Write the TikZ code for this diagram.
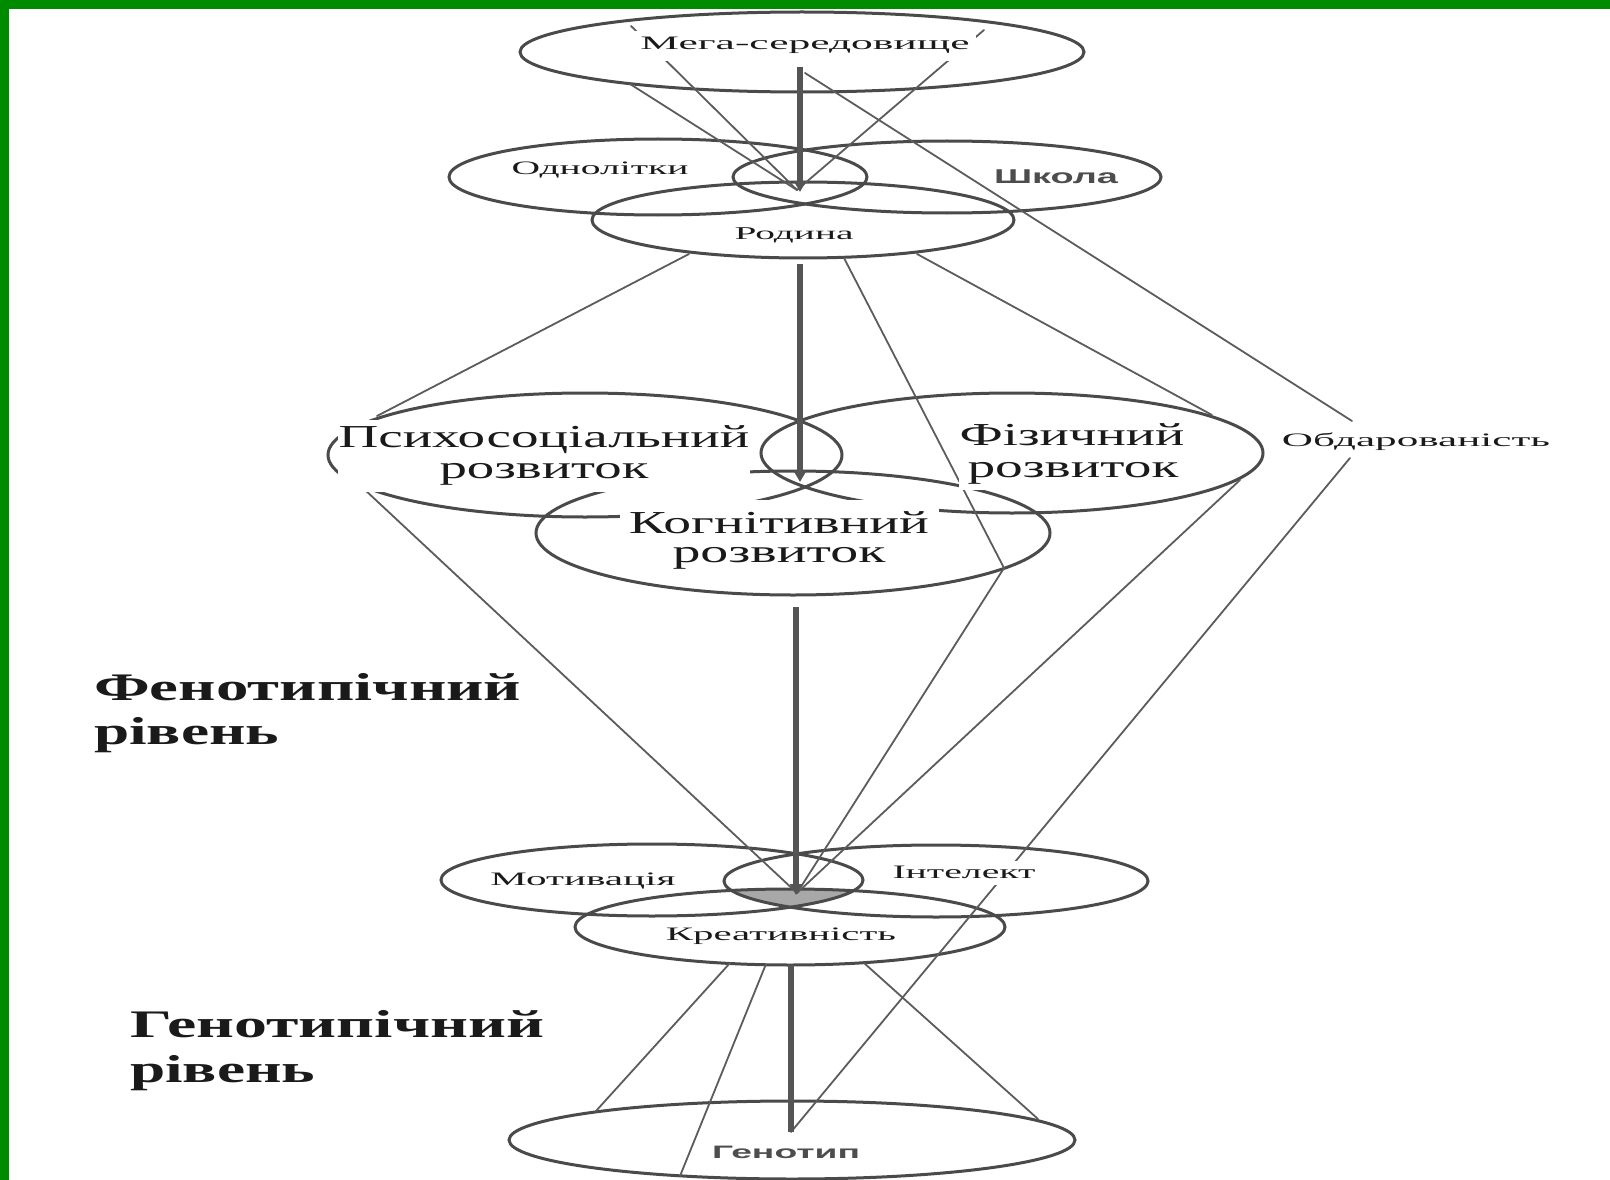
\documentclass[tikz,border=0pt]{standalone}
\usepackage{fontspec}
\setmainfont{Liberation Serif}
\newfontfamily\sansfam{Liberation Sans}
\usepackage{graphicx}
\usetikzlibrary{shapes.geometric,arrows.meta}
\newcommand{\hstretch}[2]{\resizebox{#1}{\height}{#2}}
\definecolor{ellcol}{HTML}{4A4A4A}
\definecolor{linecol}{HTML}{5C5C5C}
\definecolor{flowcol}{HTML}{555555}
\definecolor{txtcol}{HTML}{1A1A1A}
\definecolor{graytxt}{HTML}{4D4D4D}
\definecolor{framecol}{HTML}{008A00}
\definecolor{shadecol}{HTML}{A8A8A8}
\tikzset{
  ell/.style={draw=ellcol, line width=3pt, ellipse, inner sep=0pt},
  conn/.style={draw=linecol, line width=1.8pt, line cap=round},
  flow/.style={draw=flowcol, line width=6pt},
  flowtip/.style={flow, -{Triangle[length=11pt,width=12pt]}},
  lab/.style={anchor=base, inner sep=0pt, text=txtcol},
  smallf/.style={font=\fontsize{19}{22}\selectfont},
  bigf/.style={font=\fontsize{32}{36}\selectfont},
  levelf/.style={font=\fontsize{39}{44}\selectfont\bfseries},
  sansf/.style={font=\fontsize{20}{24}\selectfont\sansfam\bfseries, text=graytxt},
  wbox/.style={fill=white},
}
\begin{document}
\begin{tikzpicture}[x=1pt,y=-1pt]
\useasboundingbox (0,0) rectangle (1610,1180);
\fill[white] (0,0) rectangle (1610,1180);

% shaded triple intersection
\begin{scope}
  \clip (652,880) ellipse [x radius=211pt, y radius=36pt];
  \clip (936,881) ellipse [x radius=212pt, y radius=36pt];
  \fill[shadecol] (790,927) ellipse [x radius=215pt, y radius=38pt];
\end{scope}

% ellipses
\node[ell, minimum width=564pt, minimum height=80pt] (mega) at (802,52) {};
\node[ell, minimum width=418pt, minimum height=76pt] (odno) at (658,177) {};
\node[ell, minimum width=428pt, minimum height=72pt] (shkola) at (947,177) {};
\node[ell, minimum width=422pt, minimum height=76pt] (rodyna) at (803,220) {};
\node[ell, minimum width=514pt, minimum height=124pt] (psych) at (585,455) {};
\node[ell, minimum width=502pt, minimum height=120pt] (fiz) at (1012,453) {};
\node[ell, minimum width=514pt, minimum height=124pt] (cog) at (793,533) {};
\node[ell, minimum width=422pt, minimum height=72pt] (motiv) at (652,880) {};
\node[ell, minimum width=424pt, minimum height=72pt] (intel) at (936,881) {};
\node[ell, minimum width=430pt, minimum height=76pt] (kreat) at (790,927) {};
\node[ell, minimum width=566pt, minimum height=78pt] (genotyp) at (792,1140) {};

% connector end points
\coordinate (pA) at (631,26);
\coordinate (pB) at (630,84);
\coordinate (pC) at (984,30);
\coordinate (pD) at (805,73);
\coordinate (P1) at (797,190);
\coordinate (oTop) at (1352,421);
\coordinate (oBot) at (1350,458);
\coordinate (rE) at (689,254);
\coordinate (rF) at (844,258);
\coordinate (rG) at (917,254);
\coordinate (psE) at (377,416);
\coordinate (fzG) at (1212,415);
\coordinate (V2) at (1004,568);
\coordinate (psL) at (364,489);
\coordinate (fzL) at (1240,480);
\coordinate (P3) at (797,893);
\coordinate (Q) at (791,1132);
\coordinate (kM1) at (730,963);
\coordinate (kM2) at (766,964);
\coordinate (kM3) at (864,963);
\coordinate (gM1) at (596,1111);
\coordinate (gM2) at (680,1176);
\coordinate (gM3) at (1038,1119);

% thin connectors
\draw[conn] (pA) -- (P1);
\draw[conn] (pB) -- (P1);
\draw[conn] (pC) -- (P1);
\draw[conn] (pD) -- (oTop);
\draw[conn] (rE) -- (psE);
\draw[conn] (rF) -- (V2) -- (P3);
\draw[conn] (rG) -- (fzG);
\draw[conn] (psL) -- (P3);
\draw[conn] (fzL) -- (P3);
\draw[conn] (oBot) -- (Q);
\draw[conn] (kM1) -- (gM1);
\draw[conn] (kM2) -- (gM2);
\draw[conn] (kM3) -- (gM3);

% thick flow arrows
\coordinate (t1a) at (800,67);  \coordinate (t1b) at (800,192);
\coordinate (t2a) at (800,264); \coordinate (t2b) at (800,482);
\coordinate (t3a) at (796,607); \coordinate (t3b) at (796,895);
\coordinate (t4a) at (791,965); \coordinate (t4b) at (791,1132);
\draw[flowtip] (t1a) -- (t1b);
\draw[flowtip] (t2a) -- (t2b);
\draw[flowtip] (t3a) -- (t3b);
\draw[flow] (t4a) -- (t4b);

% labels
\node[lab, smallf, wbox, inner xsep=6.5pt, text height=19pt, text depth=11pt] (megaT) at (805,50) {\hstretch{329pt}{Мега-середовище}};
\node[lab, smallf] (odnoT) at (600,175) {\hstretch{177pt}{Однолітки}};
\node[lab, sansf] (shkolaT) at (1056,184) {\hstretch{124pt}{Школа}};
\node[lab, font=\fontsize{18}{21}\selectfont] (rodynaT) at (794,240) {\hstretch{119pt}{Родина}};
\node[lab, smallf] (obdarT) at (1416,446) {\hstretch{268pt}{Обдарованість}};

\node[lab, bigf, wbox, inner xsep=0.5pt, text height=27pt, text depth=8pt] (psychT1) at (544,447) {\hstretch{411pt}{Психосоціальний}};
\node[lab, bigf, wbox, minimum width=412pt, text height=23pt, text depth=14pt] (psychT2) at (544,478) {\hstretch{209pt}{розвиток}};
\node[lab, bigf, wbox, inner xsep=2pt, text height=25pt, text depth=6pt] (fizT1) at (1072,445) {\hstretch{225pt}{Фізичний}};
\node[lab, bigf, wbox, minimum width=229pt, text height=26pt, text depth=13pt] (fizT2) at (1073,477) {\hstretch{211pt}{розвиток}};
\node[lab, bigf, wbox, minimum width=319pt, text height=33pt, text depth=8pt] (cogT1) at (779,533) {\hstretch{300pt}{Когнітивний}};
\node[lab, bigf, wbox, minimum width=319pt, text height=21pt, text depth=11pt] (cogT2) at (779,562) {\hstretch{213pt}{розвиток}};

\node[lab, levelf, anchor=base west] (phenoT1) at (94,700) {\hstretch{427pt}{Фенотипічний}};
\node[lab, levelf, anchor=base west] (phenoT2) at (94,744) {\hstretch{185pt}{рівень}};
\node[lab, levelf, anchor=base west] (genoT1) at (130,1037) {\hstretch{414pt}{Генотипічний}};
\node[lab, levelf, anchor=base west] (genoT2) at (130,1082) {\hstretch{185pt}{рівень}};

\node[lab, smallf] (motivT) at (583,885) {\hstretch{185pt}{Мотивація}};
\node[lab, smallf, wbox, inner xsep=2pt, text height=17pt, text depth=7pt] (intelT) at (964,878) {\hstretch{143pt}{Інтелект}};
\node[lab, smallf] (kreatT) at (781,940) {\hstretch{230pt}{Креативність}};
\node[lab, sansf, font=\fontsize{18}{21}\selectfont\sansfam\bfseries] (genotypT) at (786,1158) {\hstretch{148pt}{Генотип}};

% frame
\fill[framecol] (0,0) rectangle (1610,9);
\fill[framecol] (0,0) rectangle (9,1180);
\end{tikzpicture}
\end{document}
